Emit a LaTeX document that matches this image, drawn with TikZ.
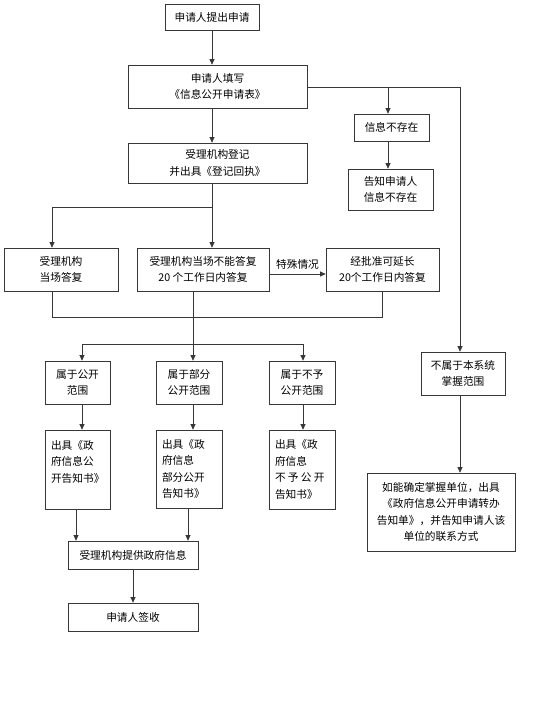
\documentclass[tikz,border=0pt]{standalone}
\usepackage{fontspec}
\setmainfont{Noto Sans CJK SC}
\usetikzlibrary{arrows.meta}
\definecolor{linec}{RGB}{55,55,55}
\newcommand\boxfont{\fontsize{10.7pt}{16.5pt}\selectfont}
\begin{document}
\begin{tikzpicture}[x=1pt,y=-1pt,
  box/.style={draw=linec, line width=0.7pt, fill=white, inner sep=2pt, align=center, font=\boxfont, text=black},
  leftbox/.style={box, align=left, inner xsep=6pt},
  conn/.style={draw=linec, line width=0.7pt},
  arr/.style={conn, -{Triangle[length=5.5pt,width=5pt]}},
  lbl/.style={font=\boxfont, text=black, inner sep=1pt}]
\path[use as bounding box, fill=white] (0,0) rectangle (555,704);

% nodes
\node[box, minimum width=94pt, minimum height=26pt] (A) at (212,17) {申请人提出申请};
\node[box, minimum width=179pt, minimum height=43pt] (B) at (217.5,86.5) {申请人填写\\《信息公开申请表》};
\node[box, minimum width=179pt, minimum height=40pt] (C) at (217.5,163) {受理机构登记\\并出具《登记回执》};
\node[box, minimum width=75pt, minimum height=27pt] (D) at (391.5,127.5) {信息不存在};
\node[box, minimum width=85pt, minimum height=41pt] (E) at (390.5,189.5) {告知申请人\\信息不存在};
\node[box, minimum width=114pt, minimum height=43pt] (F) at (61,269.5) {受理机构\\当场答复};
\node[box, minimum width=132pt, minimum height=43pt] (G) at (203,269.5) {受理机构当场不能答复\\20 个工作日内答复};
\node[box, minimum width=113pt, minimum height=43pt] (H) at (382.5,269.5) {经批准可延长\\20个工作日内答复};
\node[box, minimum width=65pt, minimum height=43pt] (I) at (77.5,382.5) {属于公开\\范围};
\node[box, minimum width=66pt, minimum height=43pt] (J) at (189,382.5) {属于部分\\公开范围};
\node[box, minimum width=66pt, minimum height=43pt] (K) at (302,382.5) {属于不予\\公开范围};
\node[leftbox, text width=53pt, minimum height=79pt] (L) at (77.5,469.5) {出具《政\\府信息公\\开告知书》\\\mbox{}};
\node[leftbox, text width=54pt, minimum height=78pt] (M) at (189,469) {出具《政\\府信息\\部分公开\\告知书》};
\node[leftbox, text width=54pt, minimum height=79pt] (N) at (302,469.5) {出具《政\\府信息\\不\hspace{2.3pt}予\hspace{2.3pt}公\hspace{2.3pt}开\\告知书》};
\node[box, minimum width=84pt, minimum height=43pt] (O) at (463,373.5) {不属于本系统\\掌握范围};
\node[box, minimum width=148pt, minimum height=78pt] (P) at (441,512) {如能确定掌握单位，出具\\《政府信息公开申请转办\\告知单》，并告知申请人该\\单位的联系方式};
\node[box, minimum width=130pt, minimum height=28pt] (Q) at (133,555) {受理机构提供政府信息};
\node[box, minimum width=130pt, minimum height=28pt] (R) at (133,617) {申请人签收};

% helper coordinates
\coordinate (cx) at (212,0);
\coordinate (c1) at (212,207);
\coordinate (fx) at (52,0);
\coordinate (y274) at (0,274);
\coordinate (b1) at (52,317);
\coordinate (b2) at (382.5,317);
\coordinate (gx) at (193,0);
\coordinate (s1) at (82,344);
\coordinate (s2) at (193,344);
\coordinate (s3) at (303,344);
\coordinate (lx) at (76,0);
\coordinate (mx) at (188,0);
\coordinate (d1) at (388,87);
\coordinate (r1) at (460,87);

% connectors
\draw[arr] (cx |- A.south) -- (cx |- B.north);
\draw[arr] (cx |- B.south) -- (cx |- C.north);
\draw[arr] (cx |- C.south) -- (cx |- G.north);
\draw[arr] (c1) -| (fx |- F.north);
\draw[arr] (G.east |- y274) -- (H.west |- y274) node[lbl, midway, above=3pt] {特殊情况};
\draw[conn] (fx |- F.south) -- (b1) -- (b2) -- (H.south);
\draw[conn] (gx |- G.south) -- (s2);
\draw[conn] (s1) -- (s3);
\draw[arr] (s1) -- (s1 |- I.north);
\draw[arr] (s2) -- (s2 |- J.north);
\draw[arr] (s3) -- (s3 |- K.north);
\draw[arr] (s1 |- I.south) -- (s1 |- L.north);
\draw[arr] (s2 |- J.south) -- (s2 |- M.north);
\draw[arr] (s3 |- K.south) -- (s3 |- N.north);
\draw[arr] (lx |- L.south) -- (lx |- Q.north);
\draw[arr] (mx |- M.south) -- (mx |- Q.north);
\draw[arr] (Q.south) -- (R.north);
\draw[conn] (B.east |- r1) -- (r1);
\draw[arr] (d1) -- (d1 |- D.north);
\draw[arr] (d1 |- D.south) -- (d1 |- E.north);
\draw[arr] (r1) -- (r1 |- O.north);
\draw[arr] (r1 |- O.south) -- (r1 |- P.north);
\end{tikzpicture}
\end{document}
